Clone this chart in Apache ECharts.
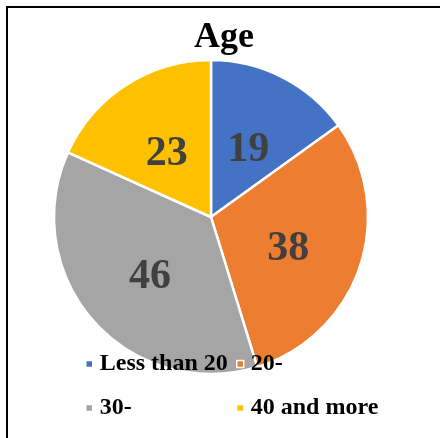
<!DOCTYPE html>
<html>
<head>
<meta charset="utf-8">
<script src="https://cdn.jsdelivr.net/npm/echarts@6/dist/echarts.min.js"></script>
<style>
html,body{margin:0;padding:0;background:#fff;}
#chart{width:440px;height:438px;}
</style>
</head>
<body>
<div id="chart"></div>
<script>
const titleText = 'Age';
const categories = ['Less than 20', '20-', '30-', '40 and more'];
const values = [19, 38, 46, 23];
const colors = ['#4472C4', '#ED7D31', '#A5A5A5', '#FFC000'];

const chart = echarts.init(document.getElementById('chart'));
const serif = '"Liberation Serif", "Times New Roman", serif';
const legendText = {fontFamily: serif, fontWeight: 'bold', fontSize: 24, lineHeight: 24, color: '#000', padding: [0, 0, 0, 2]};
chart.setOption({
  animation: false,
  color: colors,
  title: {
    text: titleText,
    left: 194, top: 20, padding: 0,
    textStyle: {fontFamily: serif, fontWeight: 'bold', fontSize: 36, color: '#000'}
  },
  graphic: [{
    type: 'rect', z: 100,
    shape: {x: 7, y: 7, width: 500, height: 500},
    style: {fill: 'none', stroke: '#000', lineWidth: 2}
  }],
  legend: [{
    data: [categories[0], categories[2]],
    orient: 'vertical', left: 85, top: 352, padding: 0,
    itemWidth: 7, itemHeight: 7, itemGap: 20, icon: 'rect',
    itemStyle: {borderColor: '#fff', borderWidth: 1.5},
    textStyle: legendText
  }, {
    data: [categories[1], categories[3]],
    orient: 'vertical', left: 236, top: 352, padding: 0,
    itemWidth: 7, itemHeight: 7, itemGap: 20, icon: 'rect',
    itemStyle: {borderColor: '#fff', borderWidth: 1.5},
    textStyle: legendText
  }],
  series: [{
    type: 'pie',
    center: [211, 217],
    radius: [0, 157],
    startAngle: 90,
    clockwise: true,
    data: categories.map((c, i) => ({name: c, value: values[i]})),
    itemStyle: {borderColor: '#fff', borderWidth: 2.5},
    label: {
      show: true, position: 'inner', formatter: '{c}', offset: [0, 6],
      fontFamily: serif, fontWeight: 'bold', fontSize: 42, color: '#404040'
    },
    labelLine: {show: false},
    emphasis: {disabled: true}
  }]
});
</script>
</body>
</html>
